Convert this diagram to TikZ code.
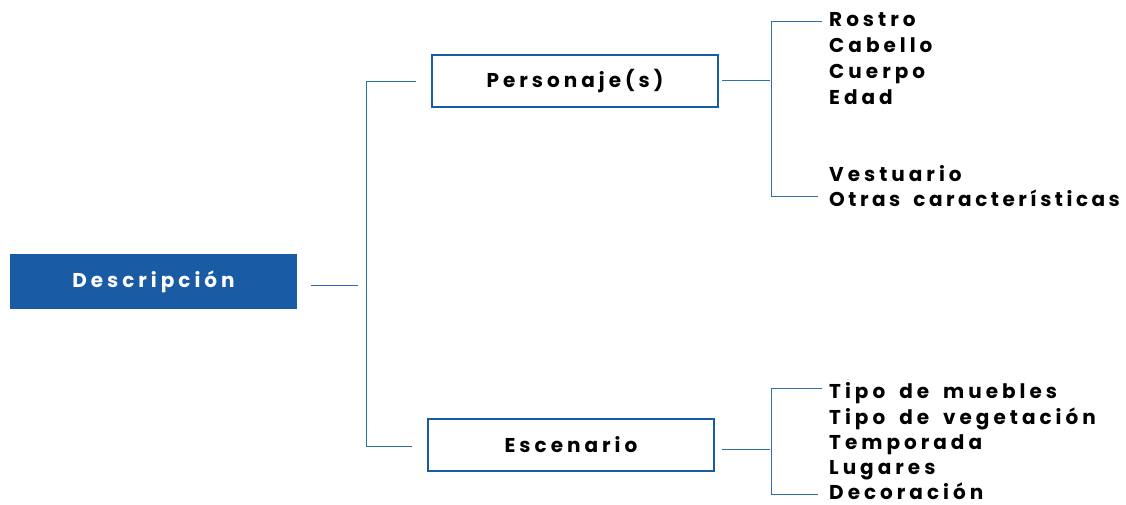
\documentclass[tikz,border=0pt]{standalone}
\usepackage{fontspec}
\setmainfont{Poppins}[LetterSpace=20,WordSpace=1.7]
\definecolor{boxblue}{HTML}{1A5BA6}
\definecolor{lineblue}{HTML}{2F6DB5}
\tikzset{
  txt/.style={font=\fontsize{20}{24}\selectfont\bfseries, inner sep=0pt},
  item/.style={txt, anchor=base west, text=black},
  mainbox/.style={txt, fill=boxblue, text=white, minimum width=287, minimum height=55},
  subbox/.style={txt, draw=boxblue, line width=2.8pt, fill=white, text=black, minimum width=286, minimum height=52},
  conn/.style={draw=lineblue, line width=1pt},
}
\begin{document}
\begin{tikzpicture}[x=1pt,y=1pt]
\useasboundingbox (0,0) rectangle (1126,504);
\node[mainbox] (desc) at (153.5,222.5) {Descripción};
\node[subbox] (pers) at (575,423) {Personaje(s)};
\node[subbox] (esc) at (571,59) {Escenario};
% items
\node[item] (i1) at (829,477) {Rostro};
\node[item] (i2) at (829,451) {Cabello};
\node[item] (i3) at (829,425) {Cuerpo};
\node[item] (i4) at (829,399) {Edad};
\node[item] (i5) at (829,322) {Vestuario};
\node[item] (i6) at (829,297) {\addfontfeature{LetterSpace=17.5}Otras características};
\node[item] (j1) at (829,106) {Tipo de muebles};
\node[item] (j2) at (829,80) {Tipo de vegetación};
\node[item] (j3) at (829,55) {Temporada};
\node[item] (j4) at (829,29.5) {Lugares};
\node[item] (j5) at (829,5) {Decoración};
% coordinates for elbows
\coordinate (a0) at (311,219);
\coordinate (a1) at (358,219);
\coordinate (t1) at (366,422);
\coordinate (t2) at (366,58);
\draw[conn] (a0) -- (a1);
\draw[conn] ([xshift=-15pt]pers.west |- t1) -- (t1) -- (t2) -- ([xshift=-15pt]esc.west |- t2);
\coordinate (p0) at (722,423);
\coordinate (p1) at (770,423);
\coordinate (pt) at (771,482);
\coordinate (pb) at (771,307);
\draw[conn] (p0) -- (p1);
\draw[conn] ([xshift=-7pt]i1.west |- pt) -- (pt) -- (pb) -- ([xshift=-11pt]i6.west |- pb);
\coordinate (e0) at (722,55);
\coordinate (e1) at (770,55);
\coordinate (et) at (771,116);
\coordinate (eb) at (771,10);
\draw[conn] (e0) -- (e1);
\draw[conn] ([xshift=-7pt]j1.west |- et) -- (et) -- (eb) -- ([xshift=-11pt]j5.west |- eb);
\end{tikzpicture}
\end{document}
